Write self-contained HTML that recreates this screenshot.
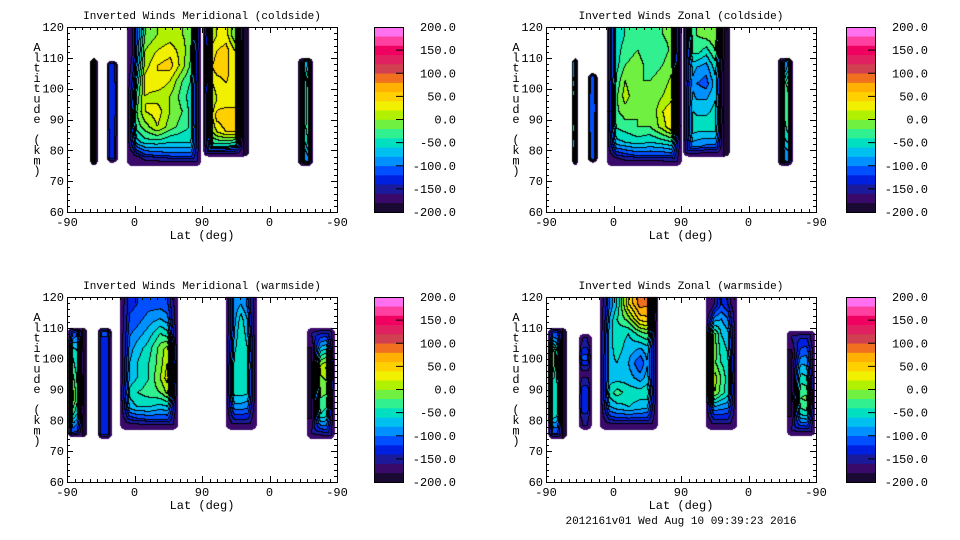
<!DOCTYPE html>
<html><head><meta charset="utf-8"><style>
body{margin:0;background:#fff;width:960px;height:540px;overflow:hidden;position:relative;font-family:"Liberation Mono",monospace}
canvas,svg{position:absolute;left:0;top:0}
</style></head><body>
<canvas id="cv" width="960" height="540"></canvas>
<svg id="sv" width="960" height="540"></svg>
<script>
// palette bands from -200 to 200, 20 bands
const bandColors = ["#1a0a33","#3a0a6a","#1a1a9a","#0020e0","#0050ff","#0090ff","#00c0f0","#00e0c0","#30f090","#70f040","#b0f000","#f0f000","#ffd000","#ffb000","#f07020","#d04050","#e02060","#f00060","#ff40a0","#ff70f0"];
const cbLabels = ["200.0","150.0","100.0","50.0","0.0","-50.0","-100.0","-150.0","-200.0"];
const xTickLabels = ["-90","0","90","0","-90"];
const yTickLabels = [120,110,100,90,80,70,60];
const titles = ["Inverted Winds Meridional (coldside)","Inverted Winds Zonal (coldside)","Inverted Winds Meridional (warmside)","Inverted Winds Zonal (warmside)"];
// blobs: lat range in axis units (0..360 across -90..90|90..-90), altitude range (km), value grid (rows top->bottom)
const tlBlobs = [
 {lat:[31,41],alt:[75,110],vals:[[-40,-190],[-20,-190],[-50,-190]]},
 {lat:[53,68],alt:[76,109],vals:[[-130],[-120],[-130],[-140]]},
 {lat:[80,179],alt:[75,120],vals:[[-150,-20,0,10,0,-10],[-150,0,20,30,10,-30],[-130,10,40,50,10,-40],[-100,30,40,20,-20,-50],[-60,20,10,0,-30,-60],[-40,20,30,0,-20,-60],[-40,-10,20,-10,-30,-50],[-80,-50,-50,-60,-60,-60],[-180,-140,-130,-120,-120,-120]]},
 {lat:[182,243],alt:[78,120],vals:[[-10,20,30,-20,-190],[20,40,50,20,-190],[30,50,50,20,-190],[10,30,40,30,-190],[-20,20,20,30,-190],[-10,50,60,50,-190],[-20,20,40,40,-190],[-60,-60,-70,-80,-190]]},
 {lat:[308,328],alt:[75,110],vals:[[-190,-80,-40],[-190,-60,20],[-190,-50,-20],[-190,-60,-10],[-190,-40,-30],[-190,-60,-20],[-190,-100,-80]]}
];
const trBlobs = [
 {lat:[35,43],alt:[75,110],vals:[[-60,-190],[20,-190],[10,-190],[-40,-190]]},
 {lat:[56,69],alt:[76,105],vals:[[-120],[-100],[-110],[-120]]},
 {lat:[81,181],alt:[75,120],vals:[[-60,-40,-30,-30,-20,-10],[-60,-30,-20,-40,-30,-10],[-60,-20,-10,-30,-20,0],[-50,0,-20,-20,-10,10],[-40,10,-20,-20,0,20],[-30,-10,-20,-20,20,40],[-40,-30,-20,-20,10,50],[-70,-60,-50,-60,-50,-40],[-160,-140,-130,-130,-130,-120]]},
 {lat:[183,245],alt:[78,120],vals:[[-30,-20,-10,0,-190],[-40,-30,-50,-20,-190],[-60,-80,-90,-50,-190],[-70,-100,-110,-70,-190],[-60,-80,-80,-60,-190],[-50,-60,-60,-50,-190],[-50,-60,-60,-60,-190],[-90,-100,-110,-110,-190]]},
 {lat:[309,329],alt:[75,110],vals:[[-190,-100,-60],[-190,-40,10],[-190,-40,-30],[-190,-40,-10],[-190,-60,-40],[-190,-100,-90]]}
];
const blBlobs = [
 {lat:[1,27],alt:[74.5,110],vals:[[-120,-100,-190],[-40,-60,-190],[-20,-50,-190],[10,-40,-190],[30,-30,-190],[-20,-60,-190],[-100,-120,-190]]},
 {lat:[41,60],alt:[74,110],vals:[[-120],[-130],[-120],[-130],[-120],[-130]]},
 {lat:[71,148],alt:[77,120],vals:[[-130,-120,-110,-110,-120],[-120,-110,-90,-80,-100],[-110,-90,-70,-40,-60],[-100,-70,-50,-10,20],[-90,-60,-40,-10,40],[-80,-60,-40,0,50],[-60,-40,-30,-20,20],[-80,-60,-60,-70,-60],[-150,-140,-130,-130,-130]]},
 {lat:[212,253],alt:[77,120],vals:[[-100,-80,-120],[-110,-50,-100],[-100,-40,-90],[-80,-40,-70],[-60,-40,-60],[-50,-50,-60],[-50,-50,-60],[-90,-90,-100],[-150,-150,-150]]},
 {lat:[320,357],alt:[74,110],vals:[[-150,-130,-120],[-190,-60,-40],[-190,10,30],[-190,-10,0],[-190,-20,-30],[-190,-40,-60],[-150,-130,-120]]}
];
const brBlobs = [
 {lat:[3,28],alt:[74,110],vals:[[-120,-110,-190],[20,-60,-190],[30,-70,-190],[-40,-60,-190],[-40,-50,-190],[-30,-60,-190],[-120,-110,-190]]},
 {lat:[44,61],alt:[77,108],vals:[[-160],[-110],[-170],[-130],[-120],[-160]]},
 {lat:[72,149],alt:[77,120],vals:[[-120,-60,40,90,80],[-100,-40,-10,50,60],[-80,-50,-60,-30,-10],[-80,-50,-70,-80,-60],[-70,-60,-80,-120,-60],[-70,-70,-70,-90,-60],[-60,-30,-50,-50,-40],[-90,-70,-60,-70,-80],[-150,-140,-140,-140,-140]]},
 {lat:[213,255],alt:[77,120],vals:[[-180,-120,-150],[-100,-80,-110],[10,-60,-80],[20,-50,-70],[0,-40,-60],[30,-20,-70],[20,-30,-60],[-80,-90,-100],[-150,-150,-150]]},
 {lat:[321,359],alt:[75,109],vals:[[-150,-140,-140],[-190,-110,-100],[-190,-70,-80],[-190,-40,-50],[-190,-20,-10],[-190,-50,-40],[-150,-130,-130]]}
];
const panels = [
 {x:67,y:27,cbx:374,blobs:tlBlobs,title:titles[0],name:'meridional-coldside'},
 {x:546,y:27,cbx:846,blobs:trBlobs,title:titles[1],name:'zonal-coldside'},
 {x:67,y:297,cbx:374,blobs:blBlobs,title:titles[2],name:'meridional-warmside'},
 {x:546,y:297,cbx:846,blobs:brBlobs,title:titles[3],name:'zonal-warmside'}
];
const W=270,H=185;
const ctx=document.getElementById('cv').getContext('2d');
const sv=document.getElementById('sv');
const NS='http://www.w3.org/2000/svg';
function el(tag,attrs,parent){const e=document.createElementNS(NS,tag);for(const k in attrs)e.setAttribute(k,attrs[k]);(parent||sv).appendChild(e);return e;}
function hex(c){return [parseInt(c.substr(1,2),16),parseInt(c.substr(3,2),16),parseInt(c.substr(5,2),16)];}
const rgb=bandColors.map(hex);

panels.forEach(p=>{
  const xs=u=>p.x+u*W/360;
  const ys=a=>p.y+(120-a)*H/60;
  const band=new Int8Array(W*H).fill(-1);
  p.blobs.forEach(b=>{
    const x0=xs(b.lat[0]),x1=xs(b.lat[1]),y0=ys(b.alt[1]),y1=ys(b.alt[0]);
    const clipTop=b.alt[1]>=120;
    const nr=b.vals.length,nc=b.vals[0].length;const r=5,F=Math.min(10,(x1-x0)/3.5);
    for(let py=Math.floor(y0);py<y1;py++)for(let px=Math.floor(x0);px<x1;px++){
      const lx=px-p.x,ly=py-p.y; if(lx<0||ly<0||lx>=W||ly>=H)continue;
      let fx=(px+0.5-x0)/(x1-x0)*nc-0.5,fy=(py+0.5-y0)/(y1-y0)*nr-0.5;
      fx=Math.max(0,Math.min(nc-1,fx));fy=Math.max(0,Math.min(nr-1,fy));
      const i0=Math.floor(fx),j0=Math.floor(fy),i1=Math.min(nc-1,i0+1),j1=Math.min(nr-1,j0+1),tx=fx-i0,ty=fy-j0;
      let v=(b.vals[j0][i0]*(1-tx)+b.vals[j0][i1]*tx)*(1-ty)+(b.vals[j1][i0]*(1-tx)+b.vals[j1][i1]*tx)*ty;
      const dl=px+0.5-x0,dr=x1-px-0.5,dt=clipTop?99:py+0.5-y0,db=y1-py-0.5;
      const ex=Math.max(0,r-dl,r-dr),ey=Math.max(0,r-dt,r-db);
      let d;
      if(ex>0&&ey>0)d=r-Math.hypot(ex,ey);else d=Math.min(dl,dr,dt,db);
      if(d<0)continue;
      if(d<F){const base=-175;if(v>base)v=base+(v-base)*Math.pow(d/F,1.3);}
      band[ly*W+lx]=Math.max(0,Math.min(19,Math.floor((v+200)/20)));
    }
  });
  const img=ctx.createImageData(W,H);
  for(let y=0;y<H;y++)for(let x=0;x<W;x++){
    const k=y*W+x,bd=band[k],o=k*4;
    if(bd<0){img.data[o]=img.data[o+1]=img.data[o+2]=255;img.data[o+3]=255;continue;}
    let c=rgb[bd];
    const rgt=x+1<W?band[k+1]:-1,dn=y+1<H?band[k+W]:-1;
    if((rgt>=0&&rgt!==bd)||(dn>=0&&dn!==bd))c=[0,0,0];
    img.data[o]=c[0];img.data[o+1]=c[1];img.data[o+2]=c[2];img.data[o+3]=255;
  }
  ctx.putImageData(img,p.x,p.y);

  const g=el('g',{});
  
  
  el('rect',{x:p.x+0.5,y:p.y+0.5,width:W,height:H,fill:'none',stroke:'#000','stroke-width':1},g);
  for(let a=60;a<=120;a+=2){const y=Math.round(ys(a))+0.5;const L=a%10===0?6:3;
    el('line',{x1:p.x,x2:p.x+L,y1:y,y2:y,stroke:'#000'},g);el('line',{x1:p.x+W-L,x2:p.x+W,y1:y,y2:y,stroke:'#000'},g);}
  yTickLabels.forEach(a=>{const t=el('text',{x:p.x-3,y:ys(a)+4,'text-anchor':'end','font-size':12,fill:'#000'},g);t.textContent=a;
    });
  for(let u=0;u<=360;u+=10){const x=Math.round(xs(u))+0.5;const L=u%90===0?6:3;
    el('line',{x1:x,x2:x,y1:p.y+H-L,y2:p.y+H,stroke:'#000'},g);el('line',{x1:x,x2:x,y1:p.y,y2:p.y+L,stroke:'#000'},g);}
  xTickLabels.forEach((s,i)=>{const t=el('text',{x:xs(i*90),y:p.y+H+14,'text-anchor':'middle','font-size':12,fill:'#000'},g);t.textContent=s;
    });
  const xt=el('text',{x:p.x+W/2,y:p.y+H+27,'text-anchor':'middle','font-size':12},g);xt.textContent='Lat (deg)';
  
  const tt=el('text',{x:p.x+W/2,y:p.y-8,'text-anchor':'middle','font-size':11},g);tt.textContent=p.title;
  
  const yt=el('text',{x:p.x-30,y:p.y+24,'text-anchor':'middle','font-size':12},g);
  
  'Altitude (km)'.split('').forEach((ch,i)=>{const ts=el('tspan',{x:p.x-30,y:p.y+24+i*10.3},yt);ts.textContent=ch===' '?'\u00a0':ch;});
  const cb=el('g',{},g);
  
  const bh=H/20;
  bandColors.forEach((c,i)=>{el('rect',{x:p.cbx,y:p.y+H-(i+1)*bh,width:29,height:bh+0.3,fill:c},cb);});
  el('rect',{x:p.cbx+0.5,y:p.y+0.5,width:29,height:H,fill:'none',stroke:'#000'},cb);
  cbLabels.forEach((s,i)=>{const y=p.y+i*H/8;
    if(i>0&&i<8)el('line',{x1:p.cbx+22,x2:p.cbx+29,y1:y,y2:y,stroke:'#000'},cb);
    const t=el('text',{x:p.cbx+82,y:y+4,'text-anchor':'end','font-size':12},cb);t.textContent=s;
    });
});
const ft=el('text',{x:681,y:524,'text-anchor':'middle','font-size':11});ft.textContent='2012161v01 Wed Aug 10 09:39:23 2016';


</script>
</body></html>
